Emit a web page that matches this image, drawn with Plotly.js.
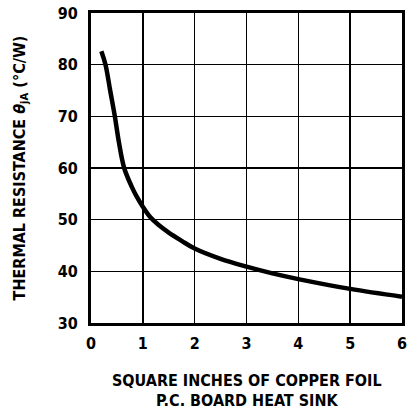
<!DOCTYPE html>
<html>
<head>
<meta charset="utf-8">
<script src="https://cdn.plot.ly/plotly-3.0.1.min.js"></script>
<style>html,body{margin:0;padding:0;background:#fff;}#chart{width:407px;height:410px;}</style>
</head>
<body>
<div id="chart"></div>
<script>
var copperArea = [0.20, 0.28, 0.37, 0.46, 0.54, 0.64, 0.785, 0.88, 1.0, 1.15, 1.3, 1.5, 1.75, 2.0, 2.5, 3.0, 3.5, 4.0, 5.0, 6.0];
var thermalRes = [82.6, 80.0, 75.0, 70.0, 64.9, 60.0, 56.4, 54.5, 52.5, 50.4, 49.0, 47.5, 45.9, 44.4, 42.4, 40.9, 39.6, 38.5, 36.6, 35.1];
var xTicks = [0, 1, 2, 3, 4, 5, 6];
var yTicks = [30, 40, 50, 60, 70, 80, 90];
var yTitle = 'THERMAL RESISTANCE <i>θ</i><sub>jA</sub> (°C/W)';
var xTitle1 = 'SQUARE INCHES OF COPPER FOIL';
var xTitle2 = 'P.C. BOARD HEAT SINK';

var font = 'DejaVu Sans Condensed, Liberation Sans Narrow, sans-serif';

var trace = {
  x: copperArea, y: thermalRes, mode: 'lines', type: 'scatter',
  line: {color: '#000', width: 4.5, shape: 'spline', smoothing: 1.0},
  hoverinfo: 'none'
};

var layout = {
  width: 407, height: 410,
  margin: {l: 91, r: 5, t: 13, b: 87},
  paper_bgcolor: '#fff', plot_bgcolor: '#fff',
  showlegend: false,
  font: {family: font, color: '#000', size: 16, weight: 'bold'},
  xaxis: {
    range: [0, 6], tickvals: xTicks, ticktext: xTicks.map(String),
    showgrid: true, gridcolor: '#000', gridwidth: 1.5, zeroline: false,
    showline: true, linecolor: '#000', linewidth: 3, mirror: true,
    ticks: '', ticklabelstandoff: 4, ticklabeloverflow: 'allow',
    tickfont: {family: font, size: 16, color: '#000', weight: 'bold'}
  },
  yaxis: {
    range: [30, 90], tickvals: yTicks, ticktext: yTicks.map(String),
    showgrid: true, gridcolor: '#000', gridwidth: 1.5, zeroline: false,
    showline: true, linecolor: '#000', linewidth: 3, mirror: true,
    ticks: '', ticklabelstandoff: 7, ticklabeloverflow: 'allow',
    tickfont: {family: font, size: 16, color: '#000', weight: 'bold'},
    title: {text: yTitle, standoff: 29, font: {family: font, size: 16, color: '#000', weight: 'bold'}}
  },
  annotations: [
    {text: xTitle1, xref: 'paper', yref: 'paper', x: 0.5, y: -0.184, showarrow: false,
     font: {family: font, size: 16, color: '#000', weight: 'bold'}, xanchor: 'center', yanchor: 'middle'},
    {text: xTitle2, xref: 'paper', yref: 'paper', x: 0.5, y: -0.25, showarrow: false,
     font: {family: font, size: 16, color: '#000', weight: 'bold'}, xanchor: 'center', yanchor: 'middle'}
  ]
};

Plotly.newPlot('chart', [trace], layout, {staticPlot: true, displayModeBar: false});
</script>
</body>
</html>
